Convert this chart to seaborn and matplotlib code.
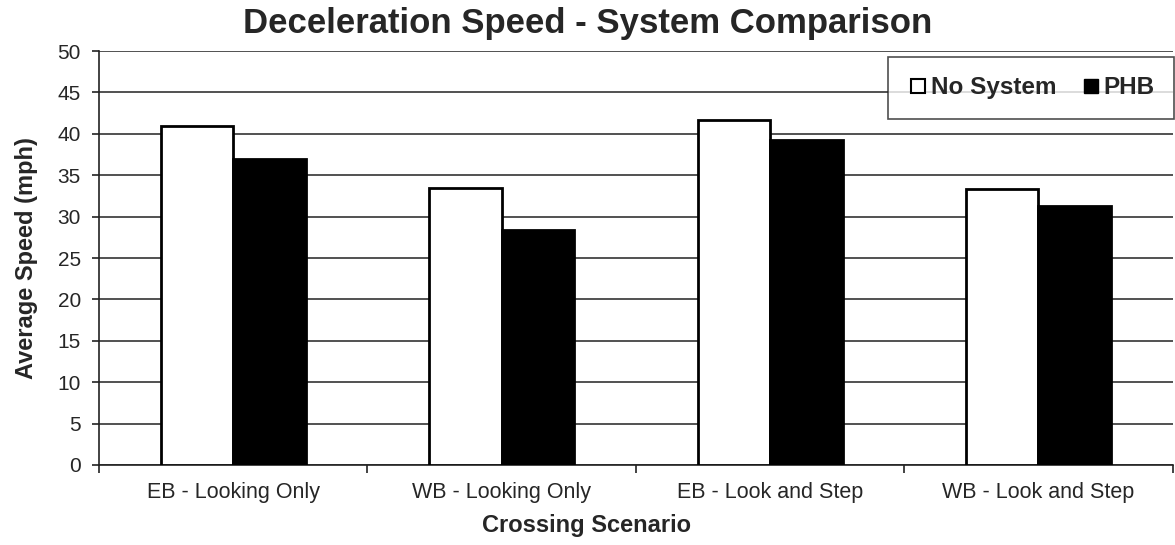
import numpy as np
import pandas as pd
import matplotlib.pyplot as plt
import seaborn as sns
from matplotlib.lines import Line2D
from matplotlib.ticker import FixedLocator

# Chart data
scenarios = ["EB - Looking Only", "WB - Looking Only", "EB - Look and Step", "WB - Look and Step"]
no_system = [40.9, 33.5, 41.7, 33.3]
phb = [36.9, 28.4, 39.2, 31.3]
systems = ["No System", "PHB"]

df = pd.DataFrame({
    "Crossing Scenario": scenarios * 2,
    "Average Speed": no_system + phb,
    "System": [systems[0]] * 4 + [systems[1]] * 4,
})

sns.set_style("white")
plt.rcParams["font.family"] = ["Liberation Sans", "DejaVu Sans"]

fig, ax = plt.subplots(figsize=(11.75, 5.45), dpi=100)
fig.subplots_adjust(left=0.0843, right=0.998, top=0.9064, bottom=0.1468)

sns.barplot(data=df, x="Crossing Scenario", y="Average Speed", hue="System",
            palette={"No System": "white", "PHB": "black"}, edgecolor="black",
            linewidth=2, width=0.54, ax=ax, legend=False, zorder=3)

ax.set_ylim(0, 50)
ax.set_xlim(-0.5, 3.5)
ax.set_yticks(np.arange(0, 51, 5))
ax.yaxis.grid(True, color="#333333", linewidth=1.2, zorder=0)
ax.set_axisbelow(True)

for s in ["top", "right"]:
    ax.spines[s].set_visible(False)
ax.spines["left"].set_color("#222222")
ax.spines["bottom"].set_color("#222222")
ax.spines["left"].set_linewidth(1.2)
ax.spines["bottom"].set_linewidth(1.2)

ax.tick_params(axis="y", which="major", left=True, length=5, width=1.2,
               labelsize=15, color="#222222", pad=8)
ax.tick_params(axis="x", which="major", bottom=False, labelsize=15.5, pad=9)
ax.xaxis.set_minor_locator(FixedLocator([-0.5, 0.5, 1.5, 2.5, 3.5]))
ax.tick_params(axis="x", which="minor", bottom=True, length=6, width=1.2, color="#222222")

# title and x label are centred on the figure, not on the axes
fig.suptitle("Deceleration Speed - System Comparison", fontsize=25, fontweight="bold",
             x=0.5, y=0.988, va="top")
ax.set_xlabel("Crossing Scenario", fontsize=17, fontweight="bold")
ax.xaxis.set_label_coords(0.454, -0.118)
ax.set_ylabel("Average Speed (mph)", fontsize=17, fontweight="bold", labelpad=14)

handles = [
    Line2D([0], [0], marker="s", linestyle="", markerfacecolor="white",
           markeredgecolor="black", markeredgewidth=1.5, markersize=10.5),
    Line2D([0], [0], marker="s", linestyle="", markerfacecolor="black",
           markeredgecolor="black", markersize=10.5),
]
leg = ax.legend(handles, systems, ncol=2, loc="upper right",
                bbox_to_anchor=(1174 / 1175, 1 - 57 / 545), bbox_transform=fig.transFigure,
                frameon=True, fancybox=False,
                prop={"weight": "bold", "size": 17.5}, handletextpad=0.05,
                columnspacing=1.0, borderpad=0.8, borderaxespad=0, handlelength=0.9)
leg.get_frame().set_edgecolor("#222222")
leg.get_frame().set_linewidth(1.2)

fig.savefig("out.png", dpi=100)
